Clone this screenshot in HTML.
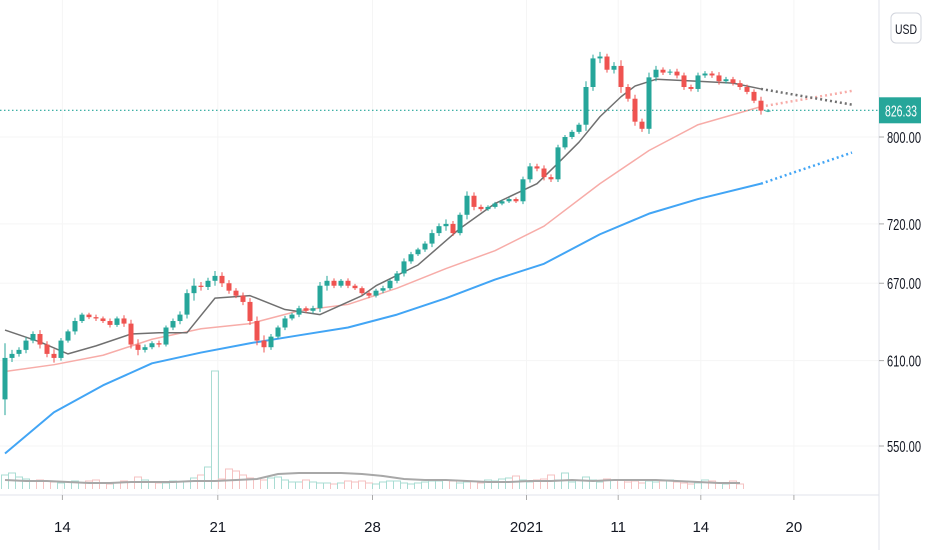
<!DOCTYPE html>
<html><head><meta charset="utf-8">
<style>
html,body{margin:0;padding:0;background:#fff;width:932px;height:550px;overflow:hidden;font-family:"Liberation Sans",sans-serif;}
svg text{font-family:"Liberation Sans",sans-serif;}
</style></head>
<body>
<svg id="chart" width="932" height="550" xmlns="http://www.w3.org/2000/svg">
<rect x="0" y="0" width="932" height="550" fill="#fff"/>
<g id="grid"></g>
<g id="volume"></g>
<g id="mas"></g>
<g id="candles"></g>
<g id="axes"></g>
</svg>
<script>
const closes=[612,615,618,625,630,622,615,612,625,632,640,645,643,642,640,637,642,638,622,618,620,623,622,635,640,645,662,668,667,672,676,670,664,660,655,640,625,620,628,635,642,645,650,648,650,668,672,668,672,668,666,662,660,664,666,672,678,688,694,698,703,712,718,720,712,728,745,735,733,735,738,740,742,740,760,772,770,762,760,790,800,805,812,850,880,882,868,872,850,838,815,808,860,868,865,866,862,850,848,862,864,862,856,858,854,850,845,836,826,826];
const firstOpen=[582];
const wicks=[22,6,4,5,4,6,5,7,4,3,5,3,3,4,3,4,3,5,6,8,4,3,4,3,4,5,6,12,6,5,8,6,5,4,5,6,7,8,4,3,4,3,4,3,4,6,8,4,3,4,3,3,4,3,4,3,4,5,4,3,4,6,5,8,5,4,8,6,4,3,3,3,3,3,5,6,5,6,5,5,4,4,4,12,8,10,6,8,12,6,8,6,10,8,5,5,6,6,5,6,5,5,7,5,5,6,5,5,8,3];
const volumes=[14,16,12,10,8,9,8,7,6,7,8,6,8,9,6,5,6,8,7,12,9,7,6,6,8,7,8,11,14,22,118,10,20,18,14,11,10,9,11,12,9,7,7,9,7,6,6,5,6,8,7,8,6,5,7,8,8,6,5,6,7,8,8,9,8,6,7,8,6,9,8,10,11,13,9,7,9,10,14,9,16,7,9,12,9,7,10,9,9,7,8,6,8,7,8,9,7,6,5,6,9,8,6,5,8,5];
const volMA=[9,8,8,7,6,6,7,7,7,8,8,9,10,15,16,16,16,15,13,10,9,9,8,7,7,8,8,9,8,9,9,9,8,7,6,6];
const grayIdx=[0,5,9,13,18,22,26,30,35,40,45,51,53,59,65,70,76,79,82,85,88,90,93,99,104,108,121];
const grayVal=[633,624,615,621,630,631,631,658,660,649,645,660,668,685,716,738,756,775,795,820,840,851,858,856,854,848,832];
const salmonIdx=[0,7,14,21,28,35,42,49,56,63,70,77,85,92,99,108,121];
const salmonVal=[602,607,614,626,634,638,648,653,666,682,697,718,756,787,812,830,846];
const blueIdx=[0,7,14,21,28,35,42,49,56,63,70,77,85,92,99,108,121];
const blueVal=[545,573,592,608,616,623,629,635,645,658,673,686,711,729,742,756,785];
const priceTicks=[800,720,670,610,550];
const dateLabels=["14","21","28","2021","11","14","20"];
const dateIdx=[8.2,30.4,52.5,74.5,87.6,99.4,112.7];
const lastPrice=826.33;

const NS="http://www.w3.org/2000/svg";
const X0=5,DX=7.0,LIVE=108;
const xs=i=>X0+i*DX;
const ys=v=>137+(Math.log(800)-Math.log(v))*824.7;
const vy=v=>489-v;
function mk(tag,attrs,parent){const e=document.createElementNS(NS,tag);for(const k in attrs)e.setAttribute(k,attrs[k]);parent.appendChild(e);return e;}
const G=id=>document.getElementById(id);

dateIdx.forEach((d,i)=>{
  const l=mk('line',{x1:xs(d),x2:xs(d),y1:0,y2:495,stroke:'#f5f5f5','stroke-width':1},G('grid'));
  
  
});
priceTicks.forEach(p=>{
  const l=mk('line',{x1:0,x2:879,y1:ys(p),y2:ys(p),stroke:'#f5f5f5','stroke-width':1},G('grid'));
  
  
});

(function(){
  const base=489;
  volumes.forEach((v,i)=>{
    const x1=xs(i)-DX/2,x2=xs(i)+DX/2;
    const o=i===0?firstOpen[0]:closes[i-1];
    const col=closes[i]>=o?'#a9dcd3':'#f5c2c2';
    const r=mk('path',{d:`M${x1},${base}V${vy(v)}H${x2}V${base}`,fill:'none',stroke:col,'stroke-width':1},G('volume'));
    
    
  });
  const pts=volMA.map((v,i)=>`${xs(i*(volumes.length-1)/(volMA.length-1))},${vy(v)}`).join(' ');
  const pl=mk('polyline',{points:pts,fill:'none',stroke:'#a8a8a8','stroke-width':2},G('volume'));
  
  
})();

function drawMA(idx,val,col,w,name){
  const solid=[],dot=[];
  idx.forEach((i,k)=>{ if(i<=LIVE) solid.push(`${xs(i)},${ys(val[k])}`);
    if(i>=LIVE || (k+1<idx.length && idx[k+1]>LIVE)) dot.push(`${xs(i)},${ys(val[k])}`);});
  const a=mk('polyline',{points:solid.join(' '),fill:'none',stroke:col,'stroke-width':w,'stroke-linejoin':'round'},G('mas'));
  
  
  const b=mk('polyline',{points:dot.join(' '),fill:'none',stroke:col,'stroke-width':2.5,'stroke-dasharray':'2 3'},G('mas'));
  
  
}
drawMA(blueIdx,blueVal,'#42a5f5',2,'ma-blue-line');
drawMA(salmonIdx,salmonVal,'#f7aca8',1.5,'ma-salmon-line');
drawMA(grayIdx,grayVal,'#707070',1.5,'ma-gray-line');

const lp=mk('line',{x1:0,x2:879,y1:ys(lastPrice),y2:ys(lastPrice),stroke:'#26a69a','stroke-width':1.2,'stroke-dasharray':'1.5 2.5'},G('mas'));



closes.forEach((c,i)=>{
  const o=i===0?firstOpen[0]:closes[i-1];
  const up=c>=o;const col=up?'#26a69a':'#ef5350';
  const hi=Math.max(o,c)+wicks[i]*0.5,lo=Math.min(o,c)-wicks[i]*0.5;
  const g=mk('g',{},G('candles'));
  
  
  mk('line',{x1:xs(i),x2:xs(i),y1:ys(hi),y2:ys(lo),stroke:col,'stroke-width':1},g);
  const t=ys(Math.max(o,c)),b=ys(Math.min(o,c));
  mk('rect',{x:xs(i)-2.5,y:t,width:5,height:Math.max(1,b-t),fill:col},g);
});

const ax=G('axes');
let e=mk('line',{x1:879,x2:879,y1:0,y2:550,stroke:'#e0e3eb','stroke-width':1},ax);

e=mk('line',{x1:0,x2:879,y1:495,y2:495,stroke:'#e0e3eb','stroke-width':1},ax);

priceTicks.forEach(p=>{
  mk('line',{x1:879,x2:884,y1:ys(p),y2:ys(p),stroke:'#aaa'},ax);
  const t=mk('text',{x:887,y:ys(p)+6,'font-size':16,fill:'#131722',textLength:34,lengthAdjust:'spacingAndGlyphs'},ax);
  t.textContent=p.toFixed(2);
  
  
});
dateLabels.forEach((s,i)=>{
  const x=xs(dateIdx[i]);
  mk('line',{x1:x,x2:x,y1:495,y2:500,stroke:'#aaa'},ax);
  const t=mk('text',{x:x,y:532,'font-size':15,fill:'#131722','text-anchor':'middle'},ax);
  t.textContent=s;
  
  
});
const lg=mk('g',{},ax);


mk('rect',{x:879,y:ys(lastPrice)-13,width:42,height:26,fill:'#26a69a'},lg);
const lt=mk('text',{x:885,y:ys(lastPrice)+6,'font-size':16,fill:'#fff',textLength:32,lengthAdjust:'spacingAndGlyphs'},lg);
lt.textContent=lastPrice.toFixed(2);
const ub=mk('g',{},ax);


mk('rect',{x:891,y:13,width:30,height:30,rx:5,fill:'#fff',stroke:'#d1d4dc'},ub);
const ut=mk('text',{x:906,y:34,'font-size':14,fill:'#131722','text-anchor':'middle',textLength:22,lengthAdjust:'spacingAndGlyphs'},ub);
ut.textContent='USD';
</script>
</body></html>
